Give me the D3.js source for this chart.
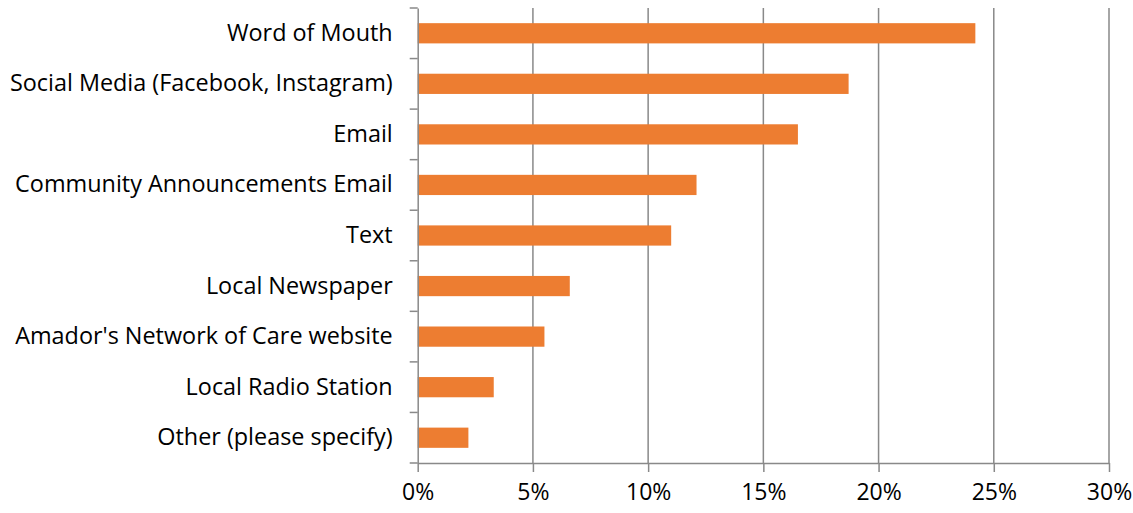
<!DOCTYPE html>
<html><head><meta charset="utf-8">
<script src="https://cdn.jsdelivr.net/npm/d3@7"></script>
<style>body{margin:0;background:#fff}svg{display:block}</style>
</head><body>
<svg id="chart" width="1133" height="513"></svg>
<script>
const categories = ["Word of Mouth","Social Media (Facebook, Instagram)","Email","Community Announcements Email","Text","Local Newspaper","Amador's Network of Care website","Local Radio Station","Other (please specify)"];
const values = [24.2, 18.7, 16.5, 12.1, 11.0, 6.6, 5.5, 3.3, 2.2];
const xTicks = [0,5,10,15,20,25,30];

const svg = d3.select("#chart");
const m = {left:417.7, right:1133-1109, top:8, bottom:513-463};
const W = 1133, H = 513;
const x = d3.scaleLinear().domain([0,30]).range([m.left, W-m.right]);
const y = d3.scaleBand().domain(categories).range([m.top, H-m.bottom]).paddingInner(0.6).paddingOuter(0.3);
const yb = d3.scaleBand().domain(categories).range([m.top, H-m.bottom]);
const font = "'Open Sans', sans-serif";
const grey = "#898989";

// gridlines
svg.append("g").selectAll("line").data(xTicks.slice(1)).join("line")
  .attr("x1", d=>x(d)).attr("x2", d=>x(d)).attr("y1", m.top).attr("y2", H-m.bottom)
  .attr("stroke", grey).attr("stroke-width", 1.5);

// bars
svg.append("g").selectAll("rect").data(categories).join("rect")
  .attr("x", x(0)).attr("y", d=>y(d)).attr("height", y.bandwidth())
  .attr("width", (d,i)=>x(values[i])-x(0)).attr("fill", "#ED7D31");

// x axis
const xa = svg.append("g").attr("transform", `translate(0,${H-m.bottom})`)
  .call(d3.axisBottom(x).tickValues(xTicks).tickFormat(d=>d+"%").tickSize(9).tickSizeOuter(0).tickPadding(12));
xa.select(".domain").attr("stroke", grey).attr("stroke-width", 1.5);
xa.selectAll(".tick line").attr("stroke", grey).attr("stroke-width", 1.5);
xa.selectAll("text").attr("font-family", font).attr("font-size", 23).attr("fill", "#000");

// y axis
const ya = svg.append("g").attr("transform", `translate(${x(0)},0)`)
  .call(d3.axisLeft(yb).tickSize(0).tickPadding(25));
ya.select(".domain").attr("stroke", grey).attr("stroke-width", 1.5);
ya.selectAll("text").attr("font-family", font).attr("font-size", 23.4).attr("fill", "#000");
// category boundary ticks
const bounds = categories.map(c=>yb(c)).concat([H-m.bottom]);
svg.append("g").selectAll("line").data(bounds).join("line")
  .attr("x1", x(0)-8).attr("x2", x(0)).attr("y1", d=>d).attr("y2", d=>d)
  .attr("stroke", grey).attr("stroke-width", 1.5);
</script>
</body></html>
